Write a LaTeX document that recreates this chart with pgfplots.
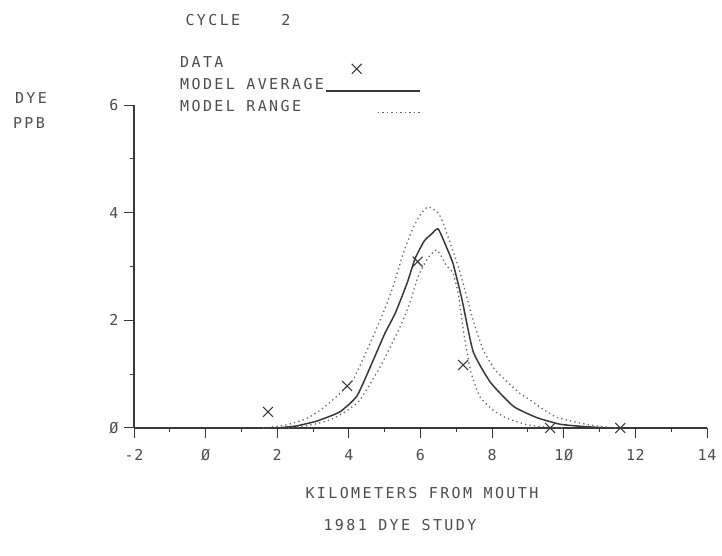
\documentclass[border=0pt]{standalone}
\usepackage{fontspec}
\usepackage{pgfplots}
\pgfplotsset{compat=1.18}
\setmainfont{DejaVu Sans Mono}[LetterSpace=16]
\newfontfamily\pf{DejaVu Sans Mono}[LetterSpace=16]
\newfontfamily\pft{DejaVu Sans Mono}[LetterSpace=4]
\definecolor{ink}{gray}{0.30}
\definecolor{lineink}{gray}{0.22}
\definecolor{dotink}{gray}{0.40}
\newcommand{\pfs}{\pf\fontsize{15}{18}\selectfont}
\newcommand{\pfts}{\pft\fontsize{15}{18}\selectfont}
\pgfplotsset{
  legdata/.style={legend image code/.code={\draw[##1] plot coordinates {(31pt,-4pt)};}},
  legavg/.style={legend image code/.code={\draw[##1] (0pt,-4pt) -- (94pt,-4pt);}},
  legrng/.style={legend image code/.code={\draw[##1] (52pt,-4pt) -- (94pt,-4pt);}},
}

\pgfplotstableread{
x y
1.74 0.30
3.95 0.78
5.92 3.09
7.19 1.17
9.62 0.00
11.58 0.00
}\dataobs

\pgfplotstableread{
x y
2.00 0.00
2.55 0.04
3.11 0.13
3.75 0.30
4.23 0.60
4.68 1.26
5.00 1.75
5.30 2.14
5.63 2.70
5.85 3.15
6.10 3.47
6.30 3.60
6.49 3.70
6.70 3.40
6.91 3.05
7.16 2.38
7.47 1.42
7.95 0.85
8.60 0.40
9.26 0.19
9.90 0.07
10.50 0.03
11.20 0.00
}\modelavg

\pgfplotstableread{
x y
1.60 0.00
2.27 0.06
2.80 0.17
3.20 0.33
3.60 0.55
4.10 0.88
4.51 1.45
4.96 2.14
5.23 2.62
5.52 3.25
5.77 3.68
5.98 3.95
6.21 4.11
6.49 4.00
6.63 3.81
6.85 3.40
7.10 2.90
7.47 2.00
7.75 1.45
8.08 1.08
8.42 0.86
8.78 0.64
9.06 0.52
9.40 0.36
9.80 0.20
10.46 0.09
11.00 0.03
11.50 0.00
}\modelmax

\pgfplotstableread{
x y
2.30 0.00
2.72 0.03
3.10 0.08
3.47 0.15
3.90 0.30
4.31 0.52
4.87 1.13
5.43 1.88
5.70 2.32
5.93 2.81
6.20 3.15
6.46 3.31
6.74 3.00
6.90 2.90
7.05 2.50
7.20 1.80
7.40 1.05
7.66 0.58
8.03 0.33
8.42 0.18
8.98 0.06
9.50 0.02
10.00 0.00
}\modelmin

\begin{document}
\begin{tikzpicture}[x=1pt,y=1pt]
\begin{axis}[
  at={(134pt,128pt)}, anchor=south west,
  x=35.8125pt, y=53.83pt,
  xmin=-2, xmax=14, ymin=0, ymax=6,
  axis lines=left,
  axis line style={-, line width=1.2pt, draw=lineink},
  xtick={-2,0,2,4,6,8,10,12,14},
  xticklabels={-2,Ø,2,4,6,8,1Ø,12,14},
  minor xtick={-1,1,3,5,7,9,11,13},
  ytick={0,2,4,6}, yticklabels={Ø,2,4,6},
  minor ytick={1,3,5},
  tick align=outside,
  major tick length=10pt, minor tick length=4pt,
  tick style={draw=lineink, line width=1pt},
  ticklabel style={font=\pfts, text=ink},
  xticklabel shift=8pt,
  yticklabel shift=2pt,
  clip=false,
  legend plot pos=right,
  legend cell align=left,
  legend style={at={(axis description cs:0.0785,1.156)}, anchor=north west,
    draw=none, fill=none, font=\pfs, text=ink, row sep=2pt, inner sep=0pt,
    column sep=0pt,
    nodes={inner sep=1pt, text height=12pt, text depth=6pt}},
]
\addplot[only marks, mark=x, mark size=7pt, mark options={line width=1.1pt, draw=lineink}, legdata]
  table[x=x,y=y] {\dataobs};
\addlegendentry{DATA}
\addplot[lineink, line width=1.5pt, smooth, tension=0.3, legavg]
  table[x=x,y=y] {\modelavg};
\addlegendentry{MODEL AVERAGE}
\addplot[dotink, line width=1.3pt, dash pattern=on 1.3pt off 3.2pt, smooth, tension=0.3, legrng]
  table[x=x,y=y] {\modelmax};
\addlegendentry{MODEL RANGE}
\addplot[dotink, line width=1.3pt, dash pattern=on 1.3pt off 3.2pt, smooth, tension=0.3, forget plot]
  table[x=x,y=y] {\modelmin};
\end{axis}
\node[anchor=west, text=ink, font=\pfs] at (182,536) {CYCLE};
\node[text=ink, font=\pfs] at (286,536) {2};
\node[text=ink, font=\pfs] at (31,458) {DYE};
\node[text=ink, font=\pfs] at (29,433) {PPB};
\node[anchor=west, text=ink, font=\pfs] at (302,63) {KILOMETERS FROM MOUTH};
\node[anchor=west, text=ink, font=\pfs] at (320,31) {1981 DYE STUDY};
\pgfresetboundingbox
\path[use as bounding box] (0,0) rectangle (722,556);
\end{tikzpicture}
\end{document}
